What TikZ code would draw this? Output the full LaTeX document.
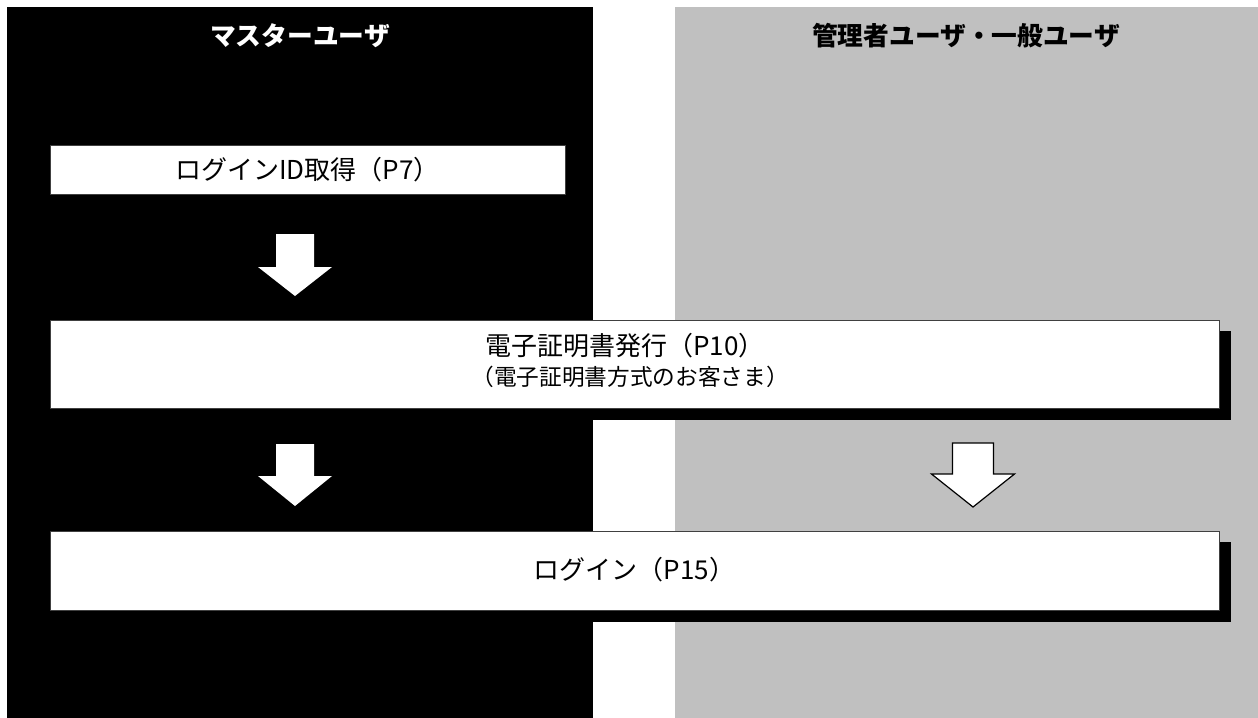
\documentclass[tikz,border=0pt]{standalone}
\usepackage{fontspec}
\setmainfont{Noto Sans CJK JP}
\definecolor{lanegray}{RGB}{192,192,192}
\begin{document}
\begin{tikzpicture}[x=0.75pt,y=-0.75pt,
  lane/.style={fill=#1,draw=none},
  stepbox/.style={fill=white,draw=black!75,line width=0.5pt},
  shadowbox/.style={fill=black,draw=none},
  head/.style={font=\fontsize{19.3}{22}\selectfont\bfseries,inner sep=0pt},
  boxtext/.style={font=\fontsize{19.5}{22}\selectfont,inner sep=0pt},
  subtext/.style={font=\fontsize{17}{19}\selectfont,inner sep=0pt},
  solidarrow/.style={fill=white,draw=none},
  openarrow/.style={fill=white,draw=black,line width=0.9pt,line join=miter}]
\useasboundingbox (0,0) rectangle (1258,718);
\fill[white] (0,0) rectangle (1258,718);
% lanes
\path[lane=black] (7,7) rectangle (593,718);
\path[lane=lanegray] (675,7) rectangle (1258,718);
\node[head,text=white] (h1) at (300,36) {マスターユーザ};
\node[head,text=black] (h2) at (966,36) {管理者ユーザ・一般ユーザ};
% box 1
\draw[stepbox] (50,145) rectangle (565,194);
\node[boxtext] (b1) at (307.5,169.5) {ログインID取得（P7）};
% box 2
\path[shadowbox] (62,331) rectangle (1231,420);
\draw[stepbox] (50,320) rectangle (1219,408);
\node[boxtext] (b2) at (625,346) {電子証明書発行（P10）};
\node[subtext] (b2s) at (630,377) {（電子証明書方式のお客さま）};
% box 3
\path[shadowbox] (62,542) rectangle (1231,622);
\draw[stepbox] (50,531) rectangle (1219,610);
\node[boxtext] (b3) at (634.5,570) {ログイン（P15）};
% arrows
\coordinate (a1) at (295,234);
\coordinate (a2) at (295,444);
\coordinate (a3) at (973,443);
\path[solidarrow] (a1) ++(-19,0) -- ++(0,33) -- ++(-18,0) -- ++(37,29) -- ++(37,-29) -- ++(-18,0) -- ++(0,-33) -- cycle;
\path[solidarrow] (a2) ++(-19,0) -- ++(0,32) -- ++(-18,0) -- ++(37,30) -- ++(37,-30) -- ++(-18,0) -- ++(0,-32) -- cycle;
\draw[openarrow] (a3) ++(-20.5,0) -- ++(0,31) -- ++(-21,0) -- ++(41.5,33) -- ++(41.5,-33) -- ++(-21,0) -- ++(0,-31) -- cycle;
\end{tikzpicture}
\end{document}
